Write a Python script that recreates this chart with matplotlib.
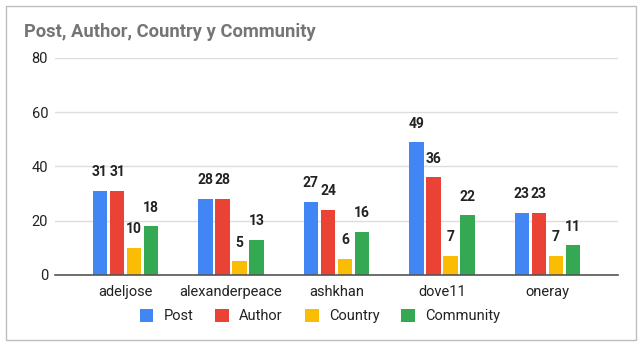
import matplotlib.pyplot as plt
import matplotlib.patches as patches
import numpy as np

plt.rcParams['font.family'] = ['Roboto', 'DejaVu Sans']

# data
users = ['adeljose', 'alexanderpeace', 'ashkhan', 'dove11', 'oneray']
post = [31, 28, 27, 49, 23]
author = [31, 28, 24, 36, 23]
country = [10, 5, 6, 7, 7]
community = [18, 13, 16, 22, 11]

series_names = ['Post', 'Author', 'Country', 'Community']
colors = ['#4285F4', '#EA4335', '#FBBC04', '#34A853']

fig = plt.figure(figsize=(6.4, 3.45), dpi=100)
ax = fig.add_axes([0.0859, 0.2029, 0.8797, 0.629])

# border around the whole chart
fig.patches.append(patches.Rectangle((0.0094, 0.0145), 0.984, 0.968, transform=fig.transFigure,
                                     fill=False, edgecolor='#bdbdbd', linewidth=1.0))

x = np.arange(len(users))
w = 0.137
pitch = 0.162
for i, (vals, name, c) in enumerate(zip([post, author, country, community], series_names, colors)):
    pos = x + (i - 1.5) * pitch
    bars = ax.bar(pos, vals, width=w, color=c, label=name, zorder=3)
    for b, v in zip(bars, vals):
        ax.annotate(str(v), (b.get_x() + b.get_width() / 2, v), xytext=(0, 10.5),
                    textcoords='offset points', ha='center', va='baseline',
                    fontsize=10, fontweight='bold', color='#222222')

ax.set_xlim(-0.67, 4.67)
ax.set_ylim(0, 80)
ax.set_yticks([0, 20, 40, 60, 80])
ax.set_xticks(x)
ax.set_xticklabels(users)
ax.tick_params(axis='both', length=0, labelsize=10.5, colors='#222222')
ax.tick_params(axis='x', pad=7)
ax.tick_params(axis='y', pad=5)
ax.grid(axis='y', color='#dddddd', linewidth=1, zorder=0)
for s in ['top', 'right', 'left']:
    ax.spines[s].set_visible(False)
ax.spines['bottom'].set_color('#555555')
ax.spines['bottom'].set_linewidth(1.2)
ax.spines['bottom'].set_zorder(4)

fig.text(0.0375, 0.8928, 'Post, Author, Country y Community', fontsize=13.2, fontweight='bold',
         color='#757575', ha='left', va='baseline')

fig.legend(loc='center', bbox_to_anchor=(0.5, 0.084), ncol=4, frameon=False,
           handlelength=0.95, handleheight=1.05, columnspacing=1.5, handletextpad=0.7,
           fontsize=10.5, labelcolor='#222222')

plt.savefig('out.png', dpi=100)
